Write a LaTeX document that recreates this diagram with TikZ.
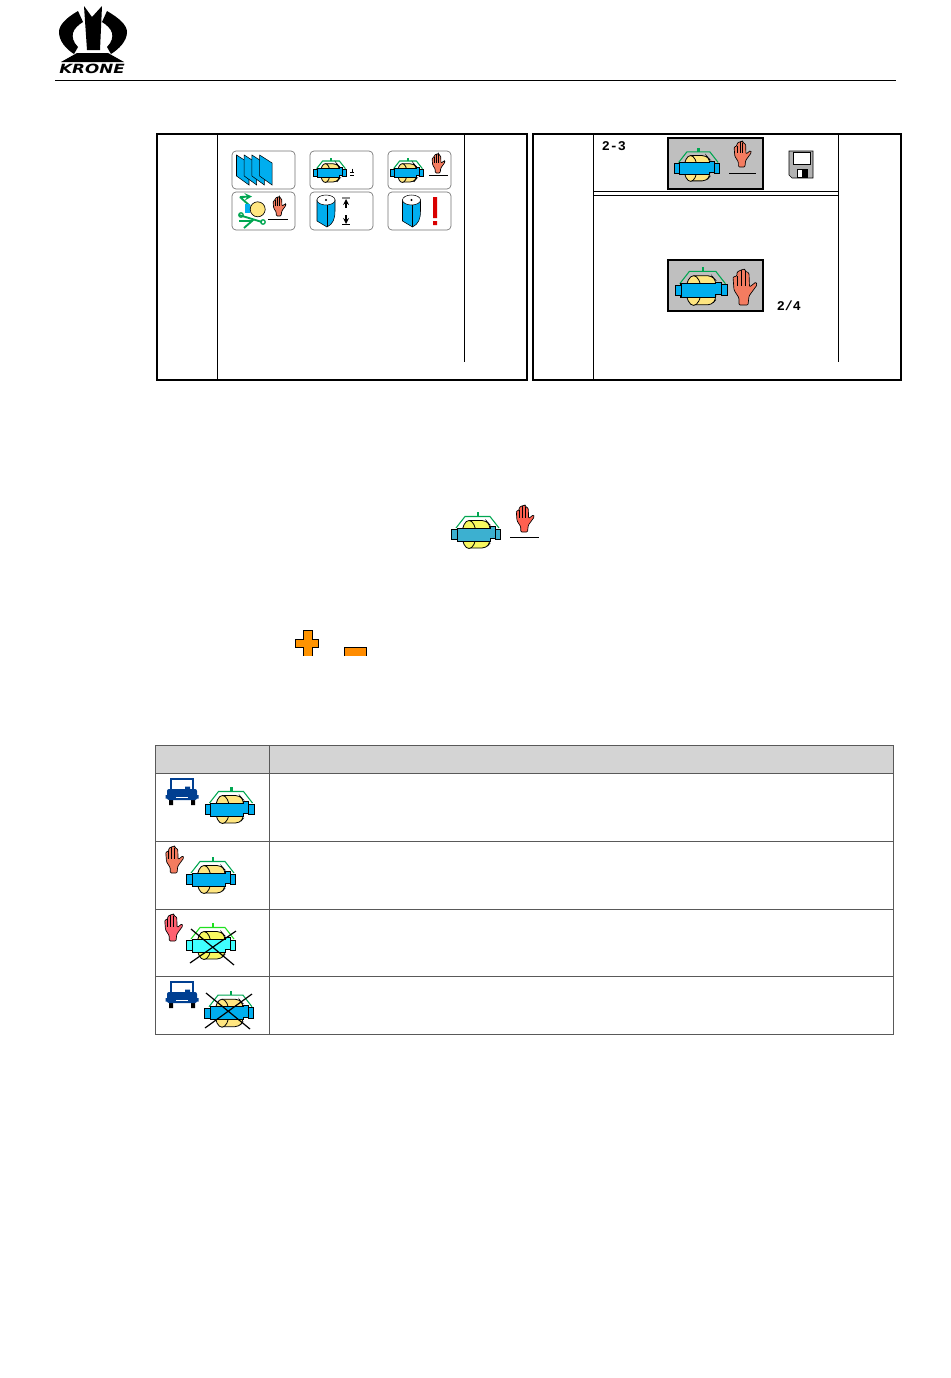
\documentclass[tikz,border=0pt]{standalone}
\usepackage{fontspec}
\usepackage{xcolor}
\setmonofont{Liberation Mono}
\newfontfamily\logofont{DejaVu Sans}
\definecolor{kblue}{HTML}{00AEEF}
\definecolor{kyellow}{HTML}{FFE680}
\definecolor{kgreen}{HTML}{00A651}
\definecolor{khand}{HTML}{F47C60}
\definecolor{kjeep}{HTML}{003F91}
\definecolor{kteal}{HTML}{3CB0D0}
\definecolor{kcoral}{HTML}{FF6050}
\definecolor{kpale}{HTML}{F8F860}
\definecolor{kcyan}{HTML}{40FFFF}
\definecolor{kpink}{HTML}{FF6070}
\definecolor{klime}{HTML}{20E020}
\tikzset{
  softkey/.style = {
      draw=black!55,
      rounded corners=3pt,
      line width=0.5pt,
      fill=white
  },
  frame/.style = {
      draw,
      line width=1.5pt
  },
  rule/.style = {
      draw,
      line width=0.6pt
  },
  button/.style = {
      draw,
      fill=black!25,
      line width=1.5pt
  },
  cell/.style = {
      draw=black!65,
      line width=0.7pt
  },
  strike/.style = {
      draw,
      line width=0.9pt
  },
  lcd/.style = {
      font=\ttfamily\bfseries\fontsize{10}{10}\selectfont,
      inner sep=0pt
  },
  pics/knotter/.style args = {#1/#2/#3}{code={
      \fill[#3] (0.5,-22) rectangle (3,-17.5);
      \draw[#3, line width=0.8pt] (-20,-6) -- (-11,-17.5) -- (14,-17.5) -- (23,-6);
      \draw[fill=#2, line width=0.6pt, rounded corners=3pt] (-7,-13.5) -- (10,-13.5) -- (14,-9) -- (14,9) -- (10,14) -- (-7,14);
      \draw[fill=#2, line width=0.6pt] (-7,0.5) ellipse (7 and 14);
      \draw[fill=#1, line width=0.6pt] (-24.5,-4.5) -- (-19,-4.5) -- (-19,-6) -- (14,-6) -- (14,-7.5) -- (19,-7.5) -- (19,-5) -- (24.5,-5) -- (24.5,5.5) -- (19,5.5) -- (19,4.5) -- (14,4.5) -- (14,7) -- (-19,7) -- (-19,5.5) -- (-24.5,5.5) -- cycle;
      \draw[line width=0.4pt] (-19,-6) -- (-19,7) (19,-7.5) -- (19,4.5);
  }},
  pics/hand/.style = {code={
      \draw[fill=#1, line width=0.5pt, rounded corners=0.8pt]
        (-5,0) -- (-5,-7) -- (-10,-15) -- (-11,-28) -- (-7,-29) -- (-7,-33) -- (-3,-35) -- (1,-36) -- (1,-34) -- (5,-32) -- (5.5,-18) -- (12,-23) -- (13,-20) -- (5,-9) -- (4,0) -- cycle;
      \draw[line width=0.4pt] (-7,-29) -- (-7,-19) (-3,-35) -- (-3,-19) (1,-34) -- (1,-19);
  }},
  pics/jeep/.style = {code={
      \fill[black] (-13,-6) rectangle (-9,0) (9,-6) rectangle (13,0);
      \draw[kjeep, line width=1.3pt] (-11,-14) -- (-11,-26) -- (11,-26) -- (11,-14);
      \fill[kjeep, rounded corners=1.5pt] (-15,-16) rectangle (15,-5);
      \fill[kjeep] (3,-18.5) rectangle (8,-15) (-16.5,-10) rectangle (16.5,-6.5);
      \fill[white] (-6,-8.5) rectangle (6,-7);
  }},
  pics/roll/.style = {code={
      \draw[fill=kblue, line width=0.4pt] (-9,-11) -- (-9,10) -- (1,16) .. controls (7,13) and (9,8) .. (9,0) -- (9,-11) -- cycle;
      \draw[line width=0.4pt] (1,-6) -- (1,16);
      \draw[fill=white, line width=0.4pt] (0,-11) ellipse (9 and 5);
      \fill (0,-11) circle (1.2);
  }},
  pics/sheet/.style = {code={
      \draw[fill=kblue, line width=0.4pt] (0,0) -- (12.5,8) -- (12.5,30) -- (0,21) -- cycle;
  }}
}
\begin{document}
\begin{tikzpicture}[x=0.75pt, y=-0.75pt]
    \useasboundingbox (0,0) rectangle (950,1378);
    % Logo
    \fill (78,11) .. controls (66,18) and (59,25) .. (59,32) .. controls (59,41) and (66,49) .. (74,54) -- (78,47) .. controls (73,42) and (72,37) .. (73,33) .. controls (74,29) and (78,25) .. (83,22) -- cycle;
    \fill (107,11) .. controls (119,18) and (127,25) .. (127,32) .. controls (127,41) and (119,49) .. (111,54) -- (107,47) .. controls (112,42) and (113,37) .. (112,33) .. controls (111,29) and (107,25) .. (102,22) -- cycle;
    \fill (84,6) -- (92,17) -- (102,6) -- (100,50) -- (87,50) -- cycle;
    \fill (77,53) -- (108,53) -- (124,62) -- (61,62) -- cycle;
    \node[inner sep=0pt] (brand) at (92,69) {\scalebox{1.32}[1]{\logofont\fontsize{9.5}{9.5}\selectfont\bfseries\itshape KRONE}};
    \path[rule] (55,80) -- (896,80);
    % Left screen
    \path[frame] (157,134) rectangle (527,380);
    \path[rule] (217,134) -- (217,380);
    \path[rule] (464,134) -- (464,362);
    \foreach \xa in {232,310,388} {
      \foreach \ya in {151,192} {
        \path[softkey] (\xa,\ya) rectangle ++(63,38);
      }
    }
    \foreach \xa in {0,1,2,3}
      \pic at ({236.5+7.7*\xa},155) {sheet};
    \pic[scale=0.67] at (330,172.7) {knotter=kblue/kyellow/kgreen};
    \draw[line width=0.5pt] (350,172) -- (354,172) (350,175) -- (354,175) (352,168.5) -- (352,171.5);
    \pic[scale=0.67] at (407,172.7) {knotter=kblue/kyellow/kgreen};
    \pic[scale=0.54] at (438,173) {hand=khand};
    \path[rule] (429,175) -- (448,175);
    % Baler softkey
    \draw[kgreen, line width=1.4pt, ->, >=stealth] (240,197) -- (252,196.5);
    \draw[kgreen, line width=1.4pt] (240,197) -- (250,206) (239,215) -- (262,222) (244,228) -- (252,221) -- (239,221);
    \draw[kgreen, line width=1pt] (241,215) circle (2.2) (263,222) circle (2.2);
    \fill[kblue] (245,204) rectangle (250,213);
    \draw[fill=kyellow, line width=0.5pt] (257.7,209.3) circle (7.5);
    \pic[scale=0.54] at (279,216) {hand=khand};
    \path[rule] (268,219) -- (288,219);
    % Roll softkeys
    \pic at (326,211) {roll};
    \pic at (411.5,211) {roll};
    \draw[black!45, line width=1pt] (342,198) -- (350,198);
    \draw[line width=1pt, ->, >=stealth] (346,208) -- (346,199);
    \draw[line width=1pt, ->, >=stealth] (346,215) -- (346,224);
    \draw[line width=1pt] (342,224.5) -- (350,224.5);
    \fill[red!85!black] (433,197) rectangle (437,218) (433,221) rectangle (437,225);
    % Right screen
    \path[frame] (533,134) rectangle (901,380);
    \path[rule] (593,134) -- (593,380);
    \path[rule] (838,134) -- (838,362);
    \path[rule] (593,191) -- (838,191);
    \path[rule] (593,195) -- (838,195);
    \node[lcd, anchor=west] (range) at (601.5,146.5) {2-3};
    \path[button] (668,138) rectangle (763,189);
    \pic[scale=0.92] at (697,168) {knotter=kblue/kyellow/kgreen};
    \pic[scale=0.72] at (742,167) {hand=khand};
    \path[rule] (729,173) -- (756,173);
    % Floppy
    \draw[fill=black!30, line width=0.4pt] (789,151) -- (813,151) -- (813,178) -- (792,178) -- (789,175) -- cycle;
    \draw[fill=white, line width=0.4pt] (793,152) rectangle (810,164);
    \draw[fill=white, line width=0.4pt] (797,169) rectangle (807,177);
    \fill (802,169) rectangle (807,177);
    % Lower button
    \path[button] (668,260) rectangle (763,311);
    \pic[scale=1.06] at (701,290) {knotter=kblue/kyellow/kgreen};
    \pic at (744,305) {hand=khand};
    \node[lcd, anchor=west] (value) at (776.5,305.5) {2/4};
    % Text icons
    \pic at (476,534) {knotter=kteal/kpale/kgreen};
    \pic[scale=0.75] at (524.5,532) {hand=kcoral};
    \path[rule] (510,537) -- (539,537);
    \begin{scope}
      \clip (290,625) rectangle (370,655);
      \draw[fill=orange!85!yellow, line width=0.7pt] (303,630) -- (312,630) -- (312,639) -- (318,639) -- (318,647) -- (312,647) -- (312,660) -- (303,660) -- (303,647) -- (295,647) -- (295,639) -- (303,639) -- cycle;
      \draw[fill=orange!90!yellow, line width=0.7pt] (344,647) rectangle (366,660);
    \end{scope}
    % Table
    \path[fill=black!17] (155,745) rectangle (893,773);
    \path[cell] (155,745) rectangle (893,1034);
    \path[cell] (155,773) -- (893,773);
    \path[cell] (155,841) -- (893,841);
    \path[cell] (155,909) -- (893,909);
    \path[cell] (155,976) -- (893,976);
    \path[cell] (269,745) -- (269,1034);
    \pic at (182,805) {jeep};
    \pic at (229.5,809) {knotter=kblue/kyellow/kgreen};
    \pic[scale=0.75] at (174,873) {hand=khand};
    \pic at (211,879) {knotter=kblue/kyellow/kgreen};
    \pic[scale=0.75] at (173,941) {hand=kpink};
    \pic at (211,945) {knotter=kcyan/kpale/klime};
    \path[strike] (190,963) -- (236,931) (191,929) -- (234,965);
    \pic at (182,1008) {jeep};
    \pic at (229,1012.7) {knotter=kblue/kyellow/kgreen};
    \path[strike] (205,1028) -- (252,994) (206,993) -- (250,1029);
\end{tikzpicture}
\end{document}
